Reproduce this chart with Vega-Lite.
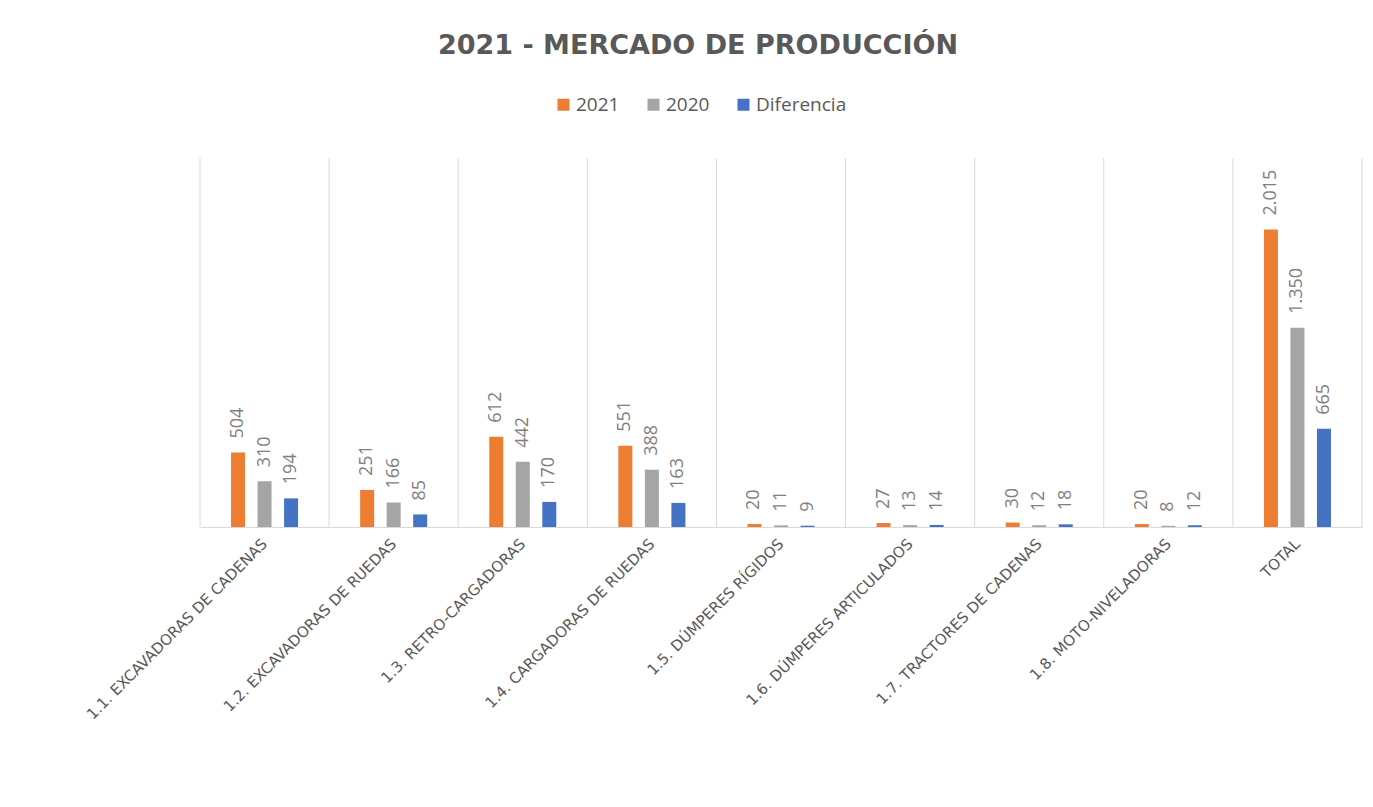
{
  "$schema": "https://vega.github.io/schema/vega-lite/v6.json",
  "width": 1162,
  "height": 369,
  "autosize": {"type": "none"},
  "padding": {"left": 200, "top": 158, "right": 11, "bottom": 280},
  "background": "white",
  "title": {
    "text": "2021 - MERCADO DE PRODUCCIÓN",
    "anchor": "middle",
    "frame": "group",
    "font": "DejaVu Sans",
    "fontSize": 27,
    "fontWeight": "bold",
    "color": "#595959",
    "baseline": "alphabetic",
    "offset": 14,
    "dx": -83
  },
  "config": {
    "locale": {"number": {"decimal": ",", "thousands": ".", "grouping": [3], "currency": ["", " €"]}},
    "view": {"stroke": null}
  },
  "data": {
    "values": [
      {"cat": "1.1. EXCAVADORAS DE CADENAS", "serie": "2021", "valor": 504},
      {"cat": "1.1. EXCAVADORAS DE CADENAS", "serie": "2020", "valor": 310},
      {"cat": "1.1. EXCAVADORAS DE CADENAS", "serie": "Diferencia", "valor": 194},
      {"cat": "1.2. EXCAVADORAS DE RUEDAS", "serie": "2021", "valor": 251},
      {"cat": "1.2. EXCAVADORAS DE RUEDAS", "serie": "2020", "valor": 166},
      {"cat": "1.2. EXCAVADORAS DE RUEDAS", "serie": "Diferencia", "valor": 85},
      {"cat": "1.3. RETRO-CARGADORAS", "serie": "2021", "valor": 612},
      {"cat": "1.3. RETRO-CARGADORAS", "serie": "2020", "valor": 442},
      {"cat": "1.3. RETRO-CARGADORAS", "serie": "Diferencia", "valor": 170},
      {"cat": "1.4. CARGADORAS DE RUEDAS", "serie": "2021", "valor": 551},
      {"cat": "1.4. CARGADORAS DE RUEDAS", "serie": "2020", "valor": 388},
      {"cat": "1.4. CARGADORAS DE RUEDAS", "serie": "Diferencia", "valor": 163},
      {"cat": "1.5. DÚMPERES RÍGIDOS", "serie": "2021", "valor": 20},
      {"cat": "1.5. DÚMPERES RÍGIDOS", "serie": "2020", "valor": 11},
      {"cat": "1.5. DÚMPERES RÍGIDOS", "serie": "Diferencia", "valor": 9},
      {"cat": "1.6. DÚMPERES ARTICULADOS", "serie": "2021", "valor": 27},
      {"cat": "1.6. DÚMPERES ARTICULADOS", "serie": "2020", "valor": 13},
      {"cat": "1.6. DÚMPERES ARTICULADOS", "serie": "Diferencia", "valor": 14},
      {"cat": "1.7. TRACTORES DE CADENAS", "serie": "2021", "valor": 30},
      {"cat": "1.7. TRACTORES DE CADENAS", "serie": "2020", "valor": 12},
      {"cat": "1.7. TRACTORES DE CADENAS", "serie": "Diferencia", "valor": 18},
      {"cat": "1.8. MOTO-NIVELADORAS", "serie": "2021", "valor": 20},
      {"cat": "1.8. MOTO-NIVELADORAS", "serie": "2020", "valor": 8},
      {"cat": "1.8. MOTO-NIVELADORAS", "serie": "Diferencia", "valor": 12},
      {"cat": "TOTAL", "serie": "2021", "valor": 2015},
      {"cat": "TOTAL", "serie": "2020", "valor": 1350},
      {"cat": "TOTAL", "serie": "Diferencia", "valor": 665}
    ]
  },
  "layer": [
    {
      "transform": [{"filter": "datum.serie == '2021'"}],
      "mark": {"type": "rule", "color": "#D9D9D9", "strokeWidth": 1},
      "encoding": {
        "x": {"field": "cat", "type": "nominal", "sort": null, "bandPosition": 0,
              "scale": {"paddingInner": 0, "paddingOuter": 0}}
      }
    },
    {
      "transform": [{"filter": "datum.serie == '2021' && datum.cat == 'TOTAL'"}],
      "mark": {"type": "rule", "color": "#D9D9D9", "strokeWidth": 1},
      "encoding": {
        "x": {"field": "cat", "type": "nominal", "sort": null, "bandPosition": 1}
      }
    },
    {
      "mark": {"type": "bar", "width": 14},
      "encoding": {
        "x": {"field": "cat", "type": "nominal", "sort": null,
              "scale": {"paddingInner": 0, "paddingOuter": 0},
              "axis": {
                "title": null, "labelAngle": -45, "labelAlign": "right", "labelBaseline": "middle",
                "labelPadding": 14, "labelFont": "DejaVu Sans", "labelFontSize": 15,
                "labelColor": "#595959", "labelLimit": 500, "ticks": false, "grid": false,
                "domainColor": "#D9D9D9", "domainWidth": 1
              }},
        "xOffset": {"field": "serie", "type": "nominal",
                    "scale": {"domain": ["2021", "2020", "Diferencia"], "paddingInner": 0, "paddingOuter": 0.934}},
        "y": {"field": "valor", "type": "quantitative", "scale": {"domain": [0, 2500], "nice": false}, "axis": null},
        "color": {"field": "serie", "type": "nominal",
                  "scale": {"domain": ["2021", "2020", "Diferencia"], "range": ["#ED7D31", "#A5A5A5", "#4472C4"]},
                  "legend": {
                    "title": null, "orient": "none", "direction": "horizontal",
                    "legendX": 354, "legendY": -63, "padding": 0,
                    "symbolType": "square", "symbolSize": 144, "symbolStrokeWidth": 0,
                    "labelFont": "Open Sans", "labelFontSize": 19, "labelColor": "#595959",
                    "labelOffset": 3, "columnPadding": 24
                  }}
      }
    },
    {
      "mark": {"type": "text", "angle": 270, "align": "left", "baseline": "middle", "dx": 14,
               "font": "Open Sans", "fontSize": 18, "color": "#7F7F7F"},
      "encoding": {
        "x": {"field": "cat", "type": "nominal", "sort": null},
        "xOffset": {"field": "serie", "type": "nominal"},
        "y": {"field": "valor", "type": "quantitative"},
        "text": {"field": "valor", "type": "quantitative", "format": ","}
      }
    }
  ]
}
